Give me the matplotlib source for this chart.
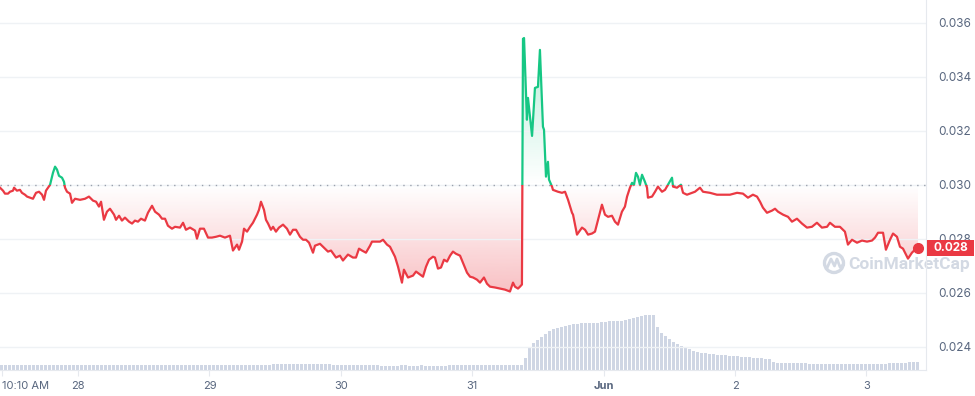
import numpy as np
import matplotlib.pyplot as plt
import matplotlib.colors as mcolors
from matplotlib.patches import Rectangle, Circle
from matplotlib.lines import Line2D
from matplotlib.transforms import blended_transform_factory

plt.rcParams['font.family'] = ['Inter', 'DejaVu Sans']

# time as day of month (Jun 1 = 32)
days = [27.406, 27.429, 27.444, 27.467, 27.482, 27.505, 27.513, 27.535, 27.558, 27.573,
        27.596, 27.612, 27.634, 27.657, 27.680, 27.703, 27.726, 27.741, 27.756, 27.771,
        27.787, 27.809, 27.825, 27.840, 27.855, 27.878, 27.893, 27.901, 27.916, 27.939,
        27.954, 27.977, 28.015, 28.053, 28.083, 28.114, 28.137, 28.159, 28.175, 28.197,
        28.220, 28.243, 28.274, 28.289, 28.312, 28.334, 28.357, 28.388, 28.411, 28.433,
        28.456, 28.479, 28.509, 28.532, 28.563, 28.586, 28.616, 28.639, 28.662, 28.684,
        28.715, 28.738, 28.776, 28.799, 28.821, 28.852, 28.890, 28.905, 28.928, 28.958,
        28.989, 29.019, 29.050, 29.080, 29.118, 29.156, 29.179, 29.210, 29.225, 29.248,
        29.263, 29.286, 29.309, 29.331, 29.362, 29.377, 29.392, 29.415, 29.430, 29.446,
        29.468, 29.484, 29.506, 29.529, 29.560, 29.590, 29.613, 29.636, 29.659, 29.689,
        29.712, 29.735, 29.758, 29.788, 29.803, 29.841, 29.864, 29.902, 29.925, 29.963,
        29.993, 30.016, 30.054, 30.092, 30.115, 30.138, 30.161, 30.191, 30.222, 30.237,
        30.267, 30.298, 30.321, 30.351, 30.374, 30.412, 30.435, 30.465, 30.480, 30.511,
        30.549, 30.572, 30.602, 30.625, 30.648, 30.671, 30.701, 30.716, 30.739, 30.762,
        30.785, 30.808, 30.831, 30.853, 30.876, 30.907, 30.929, 30.960, 30.983, 31.006,
        31.036, 31.059, 31.089, 31.112, 31.135, 31.173, 31.211, 31.249, 31.287, 31.310,
        31.325, 31.348, 31.363, 31.378, 31.386, 31.394, 31.416, 31.424, 31.455, 31.477,
        31.500, 31.515, 31.538, 31.546, 31.561, 31.576, 31.584, 31.607, 31.614, 31.652,
        31.683, 31.706, 31.729, 31.759, 31.767, 31.797, 31.835, 31.858, 31.881, 31.911,
        31.934, 31.957, 31.987, 32.010, 32.033, 32.063, 32.086, 32.109, 32.139, 32.162,
        32.178, 32.200, 32.216, 32.231, 32.246, 32.261, 32.276, 32.292, 32.314, 32.330,
        32.337, 32.368, 32.391, 32.413, 32.444, 32.467, 32.489, 32.520, 32.528, 32.558,
        32.588, 32.604, 32.634, 32.672, 32.695, 32.733, 32.756, 32.809, 32.862, 32.908,
        32.961, 33.015, 33.060, 33.098, 33.136, 33.167, 33.190, 33.212, 33.243, 33.281,
        33.304, 33.327, 33.365, 33.403, 33.433, 33.471, 33.509, 33.547, 33.585, 33.623,
        33.661, 33.700, 33.722, 33.760, 33.798, 33.836, 33.859, 33.890, 33.928, 33.966,
        34.004, 34.042, 34.065, 34.088, 34.126, 34.148, 34.179, 34.202, 34.232, 34.255,
        34.278, 34.316, 34.346, 34.369, 34.392]

price = [0.02989, 0.02978, 0.02967, 0.02967, 0.02974, 0.02978, 0.02989, 0.02978, 0.02981, 0.02970,
         0.02963, 0.02956, 0.02952, 0.02948, 0.02970, 0.02974, 0.02963, 0.02944, 0.02978, 0.02989,
         0.03000, 0.03044, 0.03067, 0.03056, 0.03033, 0.03026, 0.03011, 0.02989, 0.02974, 0.02967,
         0.02933, 0.02948, 0.02944, 0.02948, 0.02956, 0.02941, 0.02937, 0.02919, 0.02937, 0.02870,
         0.02900, 0.02911, 0.02889, 0.02870, 0.02885, 0.02867, 0.02878, 0.02863, 0.02856, 0.02867,
         0.02863, 0.02874, 0.02867, 0.02896, 0.02922, 0.02900, 0.02889, 0.02874, 0.02874, 0.02848,
         0.02837, 0.02844, 0.02841, 0.02859, 0.02833, 0.02841, 0.02830, 0.02800, 0.02837, 0.02837,
         0.02804, 0.02804, 0.02807, 0.02811, 0.02804, 0.02811, 0.02756, 0.02778, 0.02759, 0.02789,
         0.02837, 0.02826, 0.02844, 0.02859, 0.02889, 0.02907, 0.02937, 0.02907, 0.02870, 0.02856,
         0.02833, 0.02844, 0.02826, 0.02841, 0.02852, 0.02837, 0.02815, 0.02833, 0.02833, 0.02807,
         0.02796, 0.02796, 0.02785, 0.02748, 0.02774, 0.02781, 0.02770, 0.02752, 0.02756, 0.02730,
         0.02737, 0.02719, 0.02741, 0.02730, 0.02730, 0.02763, 0.02756, 0.02748, 0.02774, 0.02789,
         0.02789, 0.02789, 0.02796, 0.02778, 0.02770, 0.02733, 0.02696, 0.02637, 0.02685, 0.02656,
         0.02663, 0.02678, 0.02667, 0.02659, 0.02696, 0.02722, 0.02733, 0.02730, 0.02689, 0.02693,
         0.02722, 0.02715, 0.02737, 0.02752, 0.02744, 0.02737, 0.02711, 0.02674, 0.02659, 0.02656,
         0.02648, 0.02637, 0.02656, 0.02633, 0.02622, 0.02619, 0.02615, 0.02611, 0.02604, 0.02637,
         0.02622, 0.02615, 0.02622, 0.02630, 0.03541, 0.03544, 0.03241, 0.03322, 0.03181, 0.03359,
         0.03363, 0.03500, 0.03215, 0.03204, 0.03030, 0.03085, 0.03019, 0.02993, 0.02981, 0.02974,
         0.02970, 0.02974, 0.02944, 0.02896, 0.02889, 0.02815, 0.02841, 0.02833, 0.02815, 0.02819,
         0.02826, 0.02870, 0.02926, 0.02889, 0.02881, 0.02885, 0.02863, 0.02852, 0.02900, 0.02919,
         0.02956, 0.02989, 0.03007, 0.03000, 0.03044, 0.03030, 0.03000, 0.03037, 0.03011, 0.02989,
         0.02952, 0.02956, 0.02974, 0.02993, 0.02974, 0.02981, 0.03000, 0.03026, 0.02993, 0.02989,
         0.03000, 0.02970, 0.02963, 0.02970, 0.02974, 0.02989, 0.02974, 0.02970, 0.02963, 0.02963,
         0.02963, 0.02970, 0.02967, 0.02952, 0.02963, 0.02956, 0.02937, 0.02915, 0.02896, 0.02904,
         0.02911, 0.02900, 0.02889, 0.02881, 0.02863, 0.02874, 0.02856, 0.02841, 0.02844, 0.02859,
         0.02841, 0.02844, 0.02859, 0.02844, 0.02844, 0.02826, 0.02778, 0.02796, 0.02785, 0.02793,
         0.02789, 0.02793, 0.02804, 0.02822, 0.02822, 0.02759, 0.02796, 0.02819, 0.02807, 0.02770,
         0.02763, 0.02726, 0.02748, 0.02759, 0.02767]

# volume bars (M), evenly spaced over the period
volume = ([0.50] * 68 + [0.63] * 15 + [0.50] * 12 + [0.40] * 5 + [0.55] * 2 + [0.43] * 3
          + [0.53] + [0.40] * 6 + [0.50] * 19
          + [1.2, 2.3, 2.7, 3.0, 3.3, 3.6, 3.9, 4.1, 4.2, 4.3, 4.4, 4.5, 4.6, 4.65,
             4.7, 4.7, 4.7, 4.7, 4.7, 4.77, 4.85, 4.87, 4.87, 4.87, 4.87,
             5.0, 5.07, 5.17, 5.27, 5.4, 5.5, 5.5, 5.5,
             4.3, 3.75, 3.45, 3.07, 2.82, 2.6, 2.4, 2.25, 2.1, 1.88, 1.82, 1.75]
          + [1.7, 1.65, 1.6, 1.55, 1.5, 1.5, 1.45, 1.4, 1.4, 1.35, 1.3, 1.3, 1.25, 1.2,
             1.2, 1.15, 1.1]
          + [0.83] + [0.75] * 8 + [0.60] * 20 + [0.73] * 5 + [0.83] * 3)

baseline = 0.030
xtick_pos = [27.424, 28, 29, 30, 31, 32, 33, 34]
xtick_lab = ['10:10 AM', '28', '29', '30', '31', 'Jun', '2', '3']
ytick_pos = [0.024, 0.026, 0.028, 0.030, 0.032, 0.034, 0.036]
last_label = '0.028'

RED = '#ea3943'
GREEN = '#16c784'
GREY = '#58667e'

t = np.array(days)
p = np.array(price)
xmin, xmax = 27.406, 34.453
ymin, ymax = 0.02313, 0.03685

fig = plt.figure(figsize=(9.75, 3.96), dpi=100)
fig.patch.set_facecolor('white')
ax_vol = fig.add_axes([0, 26 / 396, 926 / 975, 370 / 396])
ax_vol.set_facecolor('none')
ax = ax_vol.twinx()

# volume
bar_t = np.linspace(27.417, 34.388, len(volume))
ax_vol.bar(bar_t, volume, width=0.023, color='#cfd6e4', linewidth=0)
ax_vol.set_ylim(0, 37.0)
ax_vol.set_yticks([])
for s in ['top', 'left', 'right']:
    ax_vol.spines[s].set_visible(False)
ax_vol.spines['bottom'].set_color('#e6e9ee')
ax_vol.set_xticks(xtick_pos)
ax_vol.set_xticklabels(xtick_lab)
ax_vol.tick_params(axis='x', length=4, color='#e6e9ee', labelcolor=GREY,
                   labelsize=8, pad=4)
labels = ax_vol.get_xticklabels()
labels[0].set_horizontalalignment('left')
labels[5].set_fontweight('bold')

# price
ax.set_yticks(ytick_pos)
ax.set_yticklabels(['%.3f' % v for v in ytick_pos])
ax.tick_params(axis='y', length=0, pad=9, labelsize=8.5, labelcolor=GREY)
ax.grid(axis='y', color='#eff2f5', linewidth=1)
for s in ['top', 'left', 'bottom']:
    ax.spines[s].set_visible(False)
ax.spines['right'].set_color('#e6e9ee')


def gradient_fill(lower, upper, color, y0, y1, a0, a1):
    poly = ax.fill_between(t, lower, upper, facecolor='none', edgecolor='none')
    n = 256
    img = np.zeros((n, 1, 4))
    img[..., :3] = mcolors.to_rgb(color)
    img[:, 0, 3] = np.linspace(a0, a1, n)
    im = ax.imshow(img, extent=[xmin, xmax, y0, y1], origin='lower',
                   aspect='auto', interpolation='bilinear', zorder=1)
    im.set_clip_path(poly.get_paths()[0], ax.transData)


gradient_fill(np.minimum(p, baseline), baseline, RED, 0.0260, baseline, 0.32, 0.0)
gradient_fill(baseline, np.maximum(p, baseline), GREEN, baseline, 0.0355, 0.0, 0.32)

ax.axhline(baseline, color='#9aa1ad', linewidth=1, linestyle=(0, (1, 4)), zorder=2)

red_line, = ax.plot(t, p, color=RED, linewidth=1.6, zorder=3)
red_line.set_clip_path(Rectangle((xmin, ymin), xmax - xmin, baseline - ymin,
                                 transform=ax.transData))
green_line, = ax.plot(t, p, color=GREEN, linewidth=1.6, zorder=3)
green_line.set_clip_path(Rectangle((xmin, baseline), xmax - xmin, ymax - baseline,
                                   transform=ax.transData))
ax.plot(t[-1], p[-1], 'o', color=RED, markersize=7, zorder=4)

ax.set_xlim(xmin, xmax)
ax.set_ylim(ymin, ymax)
ax_vol.set_xlim(xmin, xmax)

# last price tag
tr = blended_transform_factory(ax.transAxes, ax.transData)
ax.add_patch(Rectangle((1.0015, p[-1] - 0.000296), 0.0508, 0.000593, transform=tr,
                       facecolor=RED, edgecolor='none', clip_on=False, zorder=5))
ax.text(1.0015 + 0.0254, p[-1], last_label, transform=tr, ha='center', va='center',
        color='white', fontsize=8.5, fontweight='bold', zorder=6, clip_on=False)

# watermark
wm = '#d3d9e3'
fig.text(848 / 975, 1 - 265 / 396, 'CoinMarketCap', color=wm, fontsize=12.5,
         fontweight='semibold', family='Roboto', ha='left', va='center', zorder=-1)
fig.add_artist(Circle((8.34, 1.33), 0.095, transform=fig.dpi_scale_trans,
                      facecolor='none', edgecolor=wm, linewidth=2.4, zorder=-1))
fig.add_artist(Line2D([8.27, 8.31, 8.345, 8.37, 8.40, 8.43],
                      [1.28, 1.37, 1.30, 1.37, 1.29, 1.31],
                      transform=fig.dpi_scale_trans, color=wm, linewidth=2.0, zorder=-1))

plt.savefig('out.png', dpi=100)
